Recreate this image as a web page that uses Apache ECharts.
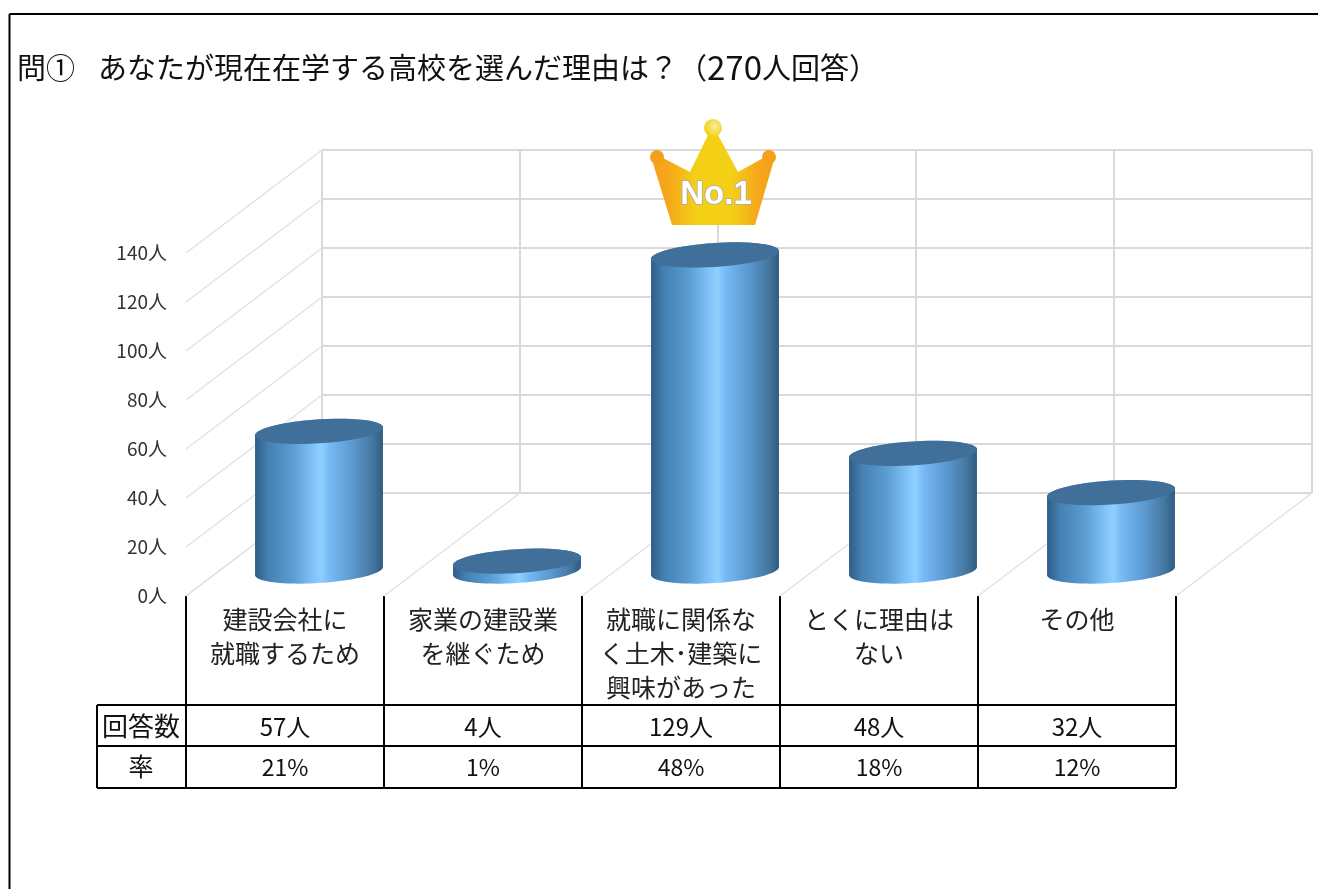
<!DOCTYPE html>
<html>
<head>
<meta charset="utf-8">
<title>問①</title>
<script src="https://cdn.jsdelivr.net/npm/echarts@6/dist/echarts.min.js"></script>
<style>
    html, body { margin: 0; padding: 0; background: #fff; }
    #main { width: 1318px; height: 889px; }
</style>
</head>
<body>
<div id="main"></div>
<script>
// データ
const categories = ['建設会社に\n就職するため', '家業の建設業\nを継ぐため', '就職に関係な\nく土木･建築に\n興味があった', 'とくに理由は\nない', 'その他'];
const answers = [57, 4, 129, 48, 32];
const answerLabels = ['57人', '4人', '129人', '48人', '32人'];
const rateLabels = ['21%', '1%', '48%', '18%', '12%'];
const yTicks = [0, 20, 40, 60, 80, 100, 120, 140];

const JP = '"Noto Sans CJK JP"';
const LEFT = 186, TOP = 253, WIDTH = 990, HEIGHT = 343;
// 奥行き(手前の面から奥の壁まで)
const DEPTH_X = 136, DEPTH_Y = 103;
const WALL = '#D9D9D9', DIAG = '#E2E2E2';

const chart = echarts.init(document.getElementById('main'));

// 斜めの楕円の点列
function arc(cx, cy, a, from, to) {
    const pts = [];
    for (let i = 0; i <= 48; i++) {
        const t = from + (to - from) * i / 48;
        pts.push([cx + a * Math.cos(t), cy + 12 * Math.sin(t) - 4 * Math.cos(t)]);
    }
    return pts;
}

function renderCylinder(params, api) {
    const top = api.coord([api.value(0), api.value(1)]);
    const base = api.coord([api.value(0), 0]);
    const a = api.size([1, 0])[0] * 0.323;
    const cx = top[0] + 34, dy = -25;
    const body = arc(cx, base[1] + dy, a, Math.PI, 0).concat(arc(cx, top[1] + dy, a, 0, -Math.PI));
    return {
        type: 'group',
        children: [{
            type: 'polygon',
            shape: { points: body },
            style: {
                fill: new echarts.graphic.LinearGradient(0, 0, 1, 0, [
                    { offset: 0, color: '#2F5D86' },
                    { offset: 0.1, color: '#4480B2' },
                    { offset: 0.3, color: '#5C9DD2' },
                    { offset: 0.45, color: '#80C2F8' },
                    { offset: 0.52, color: '#8FD0FF' },
                    { offset: 0.58, color: '#78BAF5' },
                    { offset: 0.75, color: '#5C9BD2' },
                    { offset: 0.92, color: '#44779F' },
                    { offset: 1, color: '#2F5A80' }
                ])
            }
        }, {
            type: 'polygon',
            shape: { points: arc(cx, top[1] + dy, a, 0, Math.PI * 2) },
            style: { fill: '#406F99' }
        }]
    };
}

function renderSideWall(params, api) {
    const p = api.coord([0, api.value(0)]);
    const x = p[0] - api.size([1, 0])[0] / 2;
    return {
        type: 'line',
        shape: { x1: x, y1: p[1], x2: x + DEPTH_X, y2: p[1] - DEPTH_Y },
        style: { stroke: DIAG, lineWidth: 1.5 }
    };
}

function renderFloor(params, api) {
    const p = api.coord([0, 0]);
    const band = api.size([1, 0])[0];
    const x = p[0] - band / 2 + band * api.value(0);
    return {
        type: 'line',
        shape: { x1: x, y1: p[1], x2: x + DEPTH_X, y2: p[1] - DEPTH_Y },
        style: { stroke: DIAG, lineWidth: 1.5 }
    };
}

// 王冠
function renderCrown(params, api) {
    const p = api.coord([api.value(0), api.value(1)]);
    const x = p[0] + 32, y = p[1] - 55;
    return {
        type: 'group',
        children: [{
            type: 'polygon',
            shape: {
                points: [
                    [x - 61, y - 65], [x - 52, y - 68], [x - 23, y - 53], [x - 5, y - 90], [x + 5, y - 90],
                    [x + 25, y - 53], [x + 52, y - 68], [x + 61, y - 65], [x + 42, y], [x - 41, y]
                ]
            },
            style: {
                fill: new echarts.graphic.LinearGradient(0, 0, 1, 0, [
                    { offset: 0, color: '#F5A01C' },
                    { offset: 0.14, color: '#F5A81B' },
                    { offset: 0.36, color: '#F3D016' },
                    { offset: 0.66, color: '#F3D016' },
                    { offset: 0.86, color: '#F5A81B' },
                    { offset: 1, color: '#F5A01C' }
                ])
            }
        },
        { type: 'circle', shape: { cx: x - 56, cy: y - 68, r: 7 }, style: { fill: '#F5A01C' } },
        { type: 'circle', shape: { cx: x + 56, cy: y - 68, r: 7 }, style: { fill: '#F5A01C' } },
        {
            type: 'circle',
            shape: { cx: x, cy: y - 97, r: 9 },
            style: {
                fill: new echarts.graphic.RadialGradient(0.6, 0.4, 0.6, [
                    { offset: 0, color: '#F8EDA0' },
                    { offset: 1, color: '#F3D016' }
                ])
            }
        }, {
            type: 'text',
            style: {
                text: 'No.1', x: x + 3, y: y - 30,
                fill: '#fff', stroke: '#A8A8A8', lineWidth: 1.5,
                font: 'bold 33px "Liberation Sans"',
                align: 'center', verticalAlign: 'middle'
            }
        }]
    };
}

// 表の罫線と文字
const tableTop = 705, row2 = 746, tableBottom = 788, headLeft = 97;
const band = WIDTH / categories.length;
const tableGraphic = [];
function rule(x1, y1, x2, y2) {
    tableGraphic.push({
        type: 'line',
        shape: { x1: x1, y1: y1, x2: x2, y2: y2 },
        style: { stroke: '#000', lineWidth: 2 }
    });
}
function cell(text, x, y, size) {
    tableGraphic.push({
        type: 'text',
        style: { text: text, x: x, y: y, fill: '#111', font: size + 'px ' + JP, align: 'center', verticalAlign: 'middle' }
    });
}
// 外枠
rule(9.5, 14, 1318, 14);
rule(9.5, 14, 9.5, 889);
for (let i = 0; i <= categories.length; i++) {
    rule(LEFT + band * i, 596, LEFT + band * i, tableBottom);
}
[tableTop, row2, tableBottom].forEach(function (y) { rule(headLeft, y, LEFT + WIDTH, y); });
rule(headLeft, tableTop, headLeft, tableBottom);
cell('回答数', 141, 726, 26);
cell('率', 141, 766, 25);
answerLabels.forEach(function (t, i) { cell(t, LEFT + band * (i + 0.5), 727, 24); });
rateLabels.forEach(function (t, i) { cell(t, LEFT + band * (i + 0.5), 767, 23); });

const titleText = { fontFamily: JP, fontWeight: 'normal', fontSize: 29, color: '#111' };

const option = {
    animation: false,
    backgroundColor: '#fff',
    title: {
        left: 17,
        top: 51,
        padding: 0,
        text: '{q|問①}{m|あなたが現在在学する高校を選んだ理由は？（}{d|270}{m|人回答）}',
        textStyle: {
            fontFamily: JP,
            fontWeight: 'normal',
            fontSize: 29,
            rich: {
                q: Object.assign({ width: 81 }, titleText),
                m: titleText,
                d: Object.assign({}, titleText, { fontSize: 33 })
            }
        }
    },
    grid: [
        { left: LEFT, top: TOP, width: WIDTH, height: HEIGHT },
        { left: LEFT + DEPTH_X, top: TOP - DEPTH_Y, width: WIDTH, height: HEIGHT }
    ],
    xAxis: [{
        type: 'category',
        gridIndex: 0,
        data: categories,
        axisLine: { show: false },
        axisTick: { show: false },
        axisLabel: {
            interval: 0,
            margin: 6,
            lineHeight: 34,
            verticalAlign: 'top',
            fontFamily: JP,
            fontSize: 25,
            color: '#222'
        }
    }, {
        type: 'value',
        gridIndex: 1,
        min: 0,
        max: categories.length,
        interval: 1,
        axisLine: { show: false },
        axisTick: { show: false },
        axisLabel: { show: false },
        splitLine: { show: true, lineStyle: { color: WALL, width: 2 } }
    }],
    yAxis: [{
        type: 'value',
        gridIndex: 0,
        min: 0,
        max: 140,
        interval: 20,
        axisLine: { show: false },
        axisTick: { show: false },
        splitLine: { show: false },
        axisLabel: {
            margin: 19,
            formatter: '{value}人',
            fontFamily: JP,
            fontSize: 19,
            color: '#333'
        }
    }, {
        type: 'value',
        gridIndex: 1,
        min: 0,
        max: 140,
        interval: 20,
        axisLine: { show: false },
        axisTick: { show: false },
        axisLabel: { show: false },
        splitLine: { show: true, lineStyle: { color: WALL, width: 2 } }
    }],
    series: [{
        type: 'custom',
        name: 'sideWall',
        xAxisIndex: 0,
        yAxisIndex: 0,
        clip: false,
        silent: true,
        data: yTicks.map(function (v) { return [v]; }),
        renderItem: renderSideWall
    }, {
        type: 'custom',
        name: 'floor',
        xAxisIndex: 0,
        yAxisIndex: 0,
        clip: false,
        silent: true,
        data: [0, 1, 2, 3, 4, 5].map(function (v) { return [v]; }),
        renderItem: renderFloor
    }, {
        type: 'custom',
        name: '回答数',
        xAxisIndex: 0,
        yAxisIndex: 0,
        clip: false,
        data: answers.map(function (v, i) { return [i, v]; }),
        encode: { x: 0, y: 1 },
        renderItem: renderCylinder
    }, {
        type: 'custom',
        name: 'crown',
        xAxisIndex: 0,
        yAxisIndex: 0,
        clip: false,
        silent: true,
        data: [[answers.indexOf(Math.max.apply(null, answers)), Math.max.apply(null, answers)]],
        encode: { x: 0, y: 1 },
        renderItem: renderCrown
    }],
    graphic: tableGraphic
};
chart.setOption(option);
</script>
</body>
</html>
